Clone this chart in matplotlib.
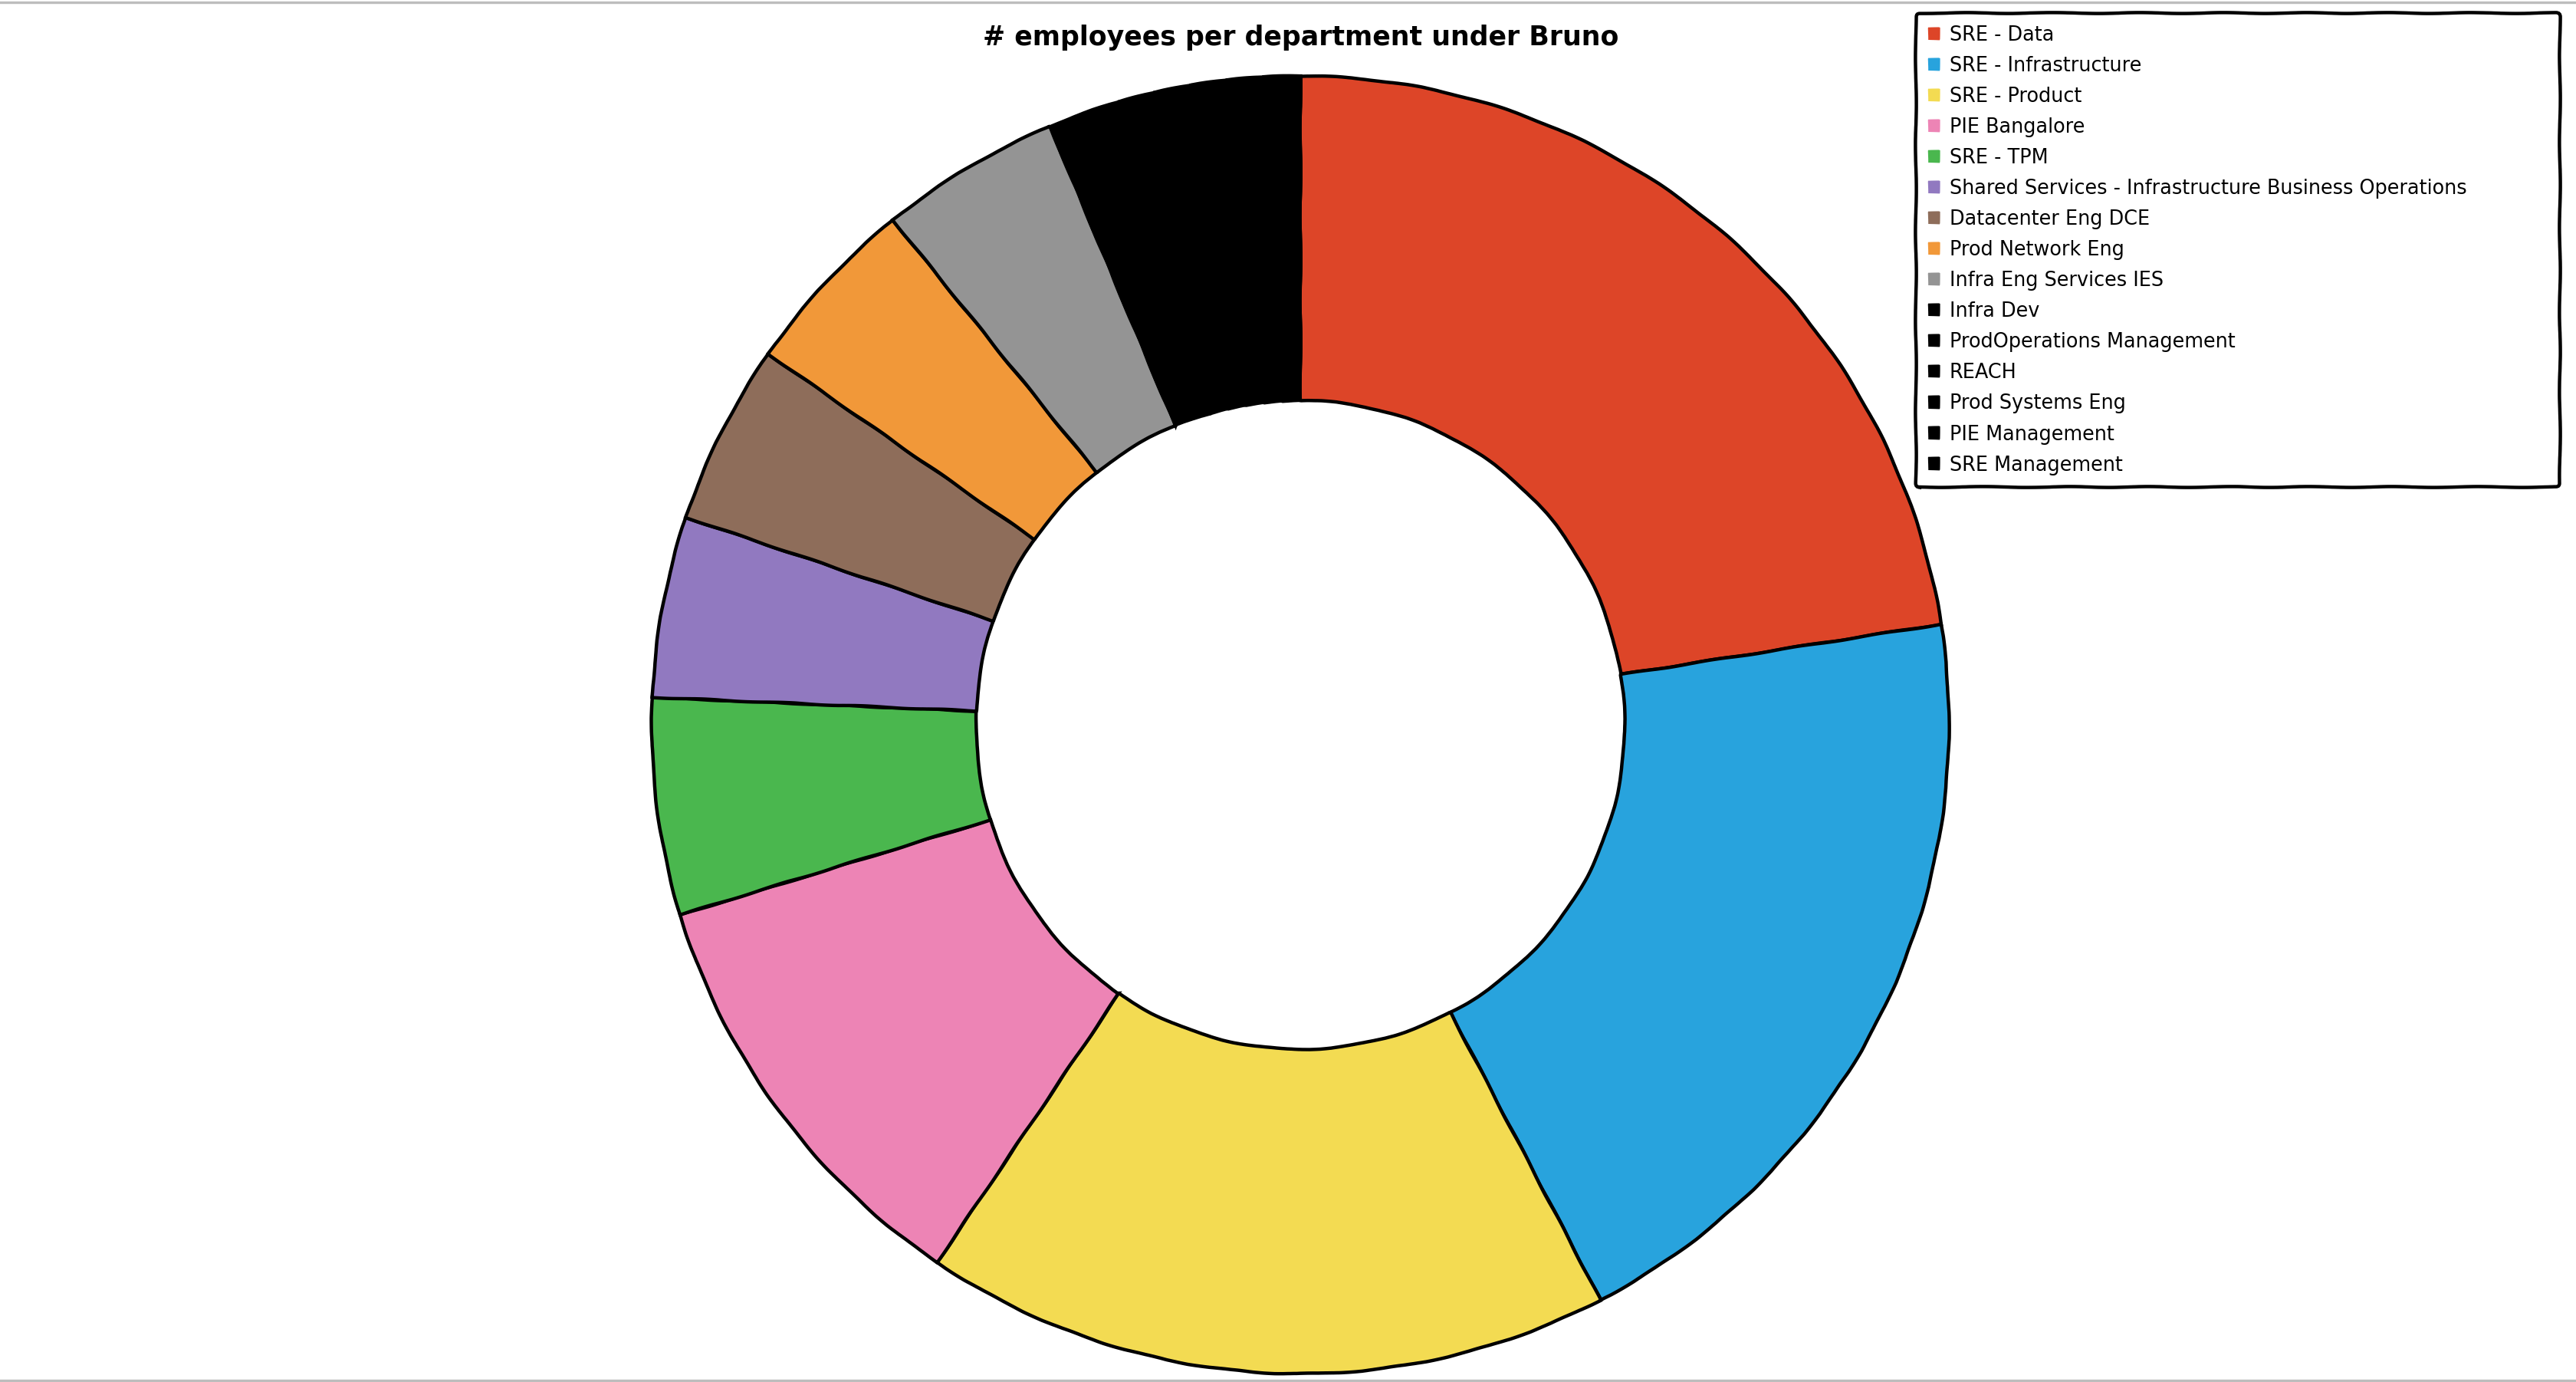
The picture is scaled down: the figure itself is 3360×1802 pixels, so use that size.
import matplotlib
matplotlib.use("Agg")
import matplotlib.pyplot as plt
from matplotlib.patches import Patch
from matplotlib.lines import Line2D

# department head counts
departments = [
    "SRE - Data", "SRE - Infrastructure", "SRE - Product", "PIE Bangalore",
    "SRE - TPM", "Shared Services - Infrastructure Business Operations",
    "Datacenter Eng DCE", "Prod Network Eng", "Infra Eng Services IES",
    "Infra Dev", "ProdOperations Management", "REACH", "Prod Systems Eng",
    "PIE Management", "SRE Management",
]
employees = [25, 22, 19, 12, 6, 5, 5, 5, 5, 2, 1, 1, 1, 1, 1]
colors = ["#dd4528", "#28a3dd", "#f3db52", "#ed84b5", "#4ab74e", "#9179c0",
          "#8e6d5a", "#f19839", "#949494"] + ["#000000"] * 6

with plt.xkcd(scale=0.6, length=120, randomness=2):
    plt.rcParams["font.family"] = ["DejaVu Sans"]
    plt.rcParams["path.effects"] = []
    fig = plt.figure(figsize=(16.8, 9.01), dpi=200)

    ax = fig.add_axes([0.253, 0.006, 0.5036, 0.939])
    ax.pie(employees, colors=colors, startangle=90, counterclock=False,
           wedgeprops=dict(width=0.5, edgecolor="black", linewidth=1.6))
    ax.set_xlim(-1, 1)
    ax.set_ylim(-1, 1)
    ax.set_aspect("auto")
    ax.axis("off")

    fig.text(0.505, 0.973, "# employees per department under Bruno",
             ha="center", va="center", fontsize=12.5, fontweight="bold")

    handles = [Patch(facecolor=c, edgecolor="none") for c in colors]
    x0, x1 = 2499 / 3360, 3339 / 3360
    leg = fig.legend(handles, departments, loc="upper left",
                     bbox_to_anchor=(x0, 0.9906, x1 - x0, 0.0),
                     mode="expand", borderaxespad=0, fontsize=9.2,
                     handlelength=0.6, handleheight=0.6, handletextpad=0.5,
                     labelspacing=0.55, borderpad=0.62, fancybox=True,
                     framealpha=1)
    leg.get_frame().set_edgecolor("black")
    leg.get_frame().set_linewidth(1.6)

    # thin page border at top and bottom
    for y in (0.9985, 0.0012):
        ln = Line2D([0, 1], [y, y], transform=fig.transFigure,
                    color="#bdbdbd", linewidth=1.2)
        ln.set_sketch_params(None)
        fig.add_artist(ln)

    fig.savefig("out.png", dpi=200, facecolor="white")
